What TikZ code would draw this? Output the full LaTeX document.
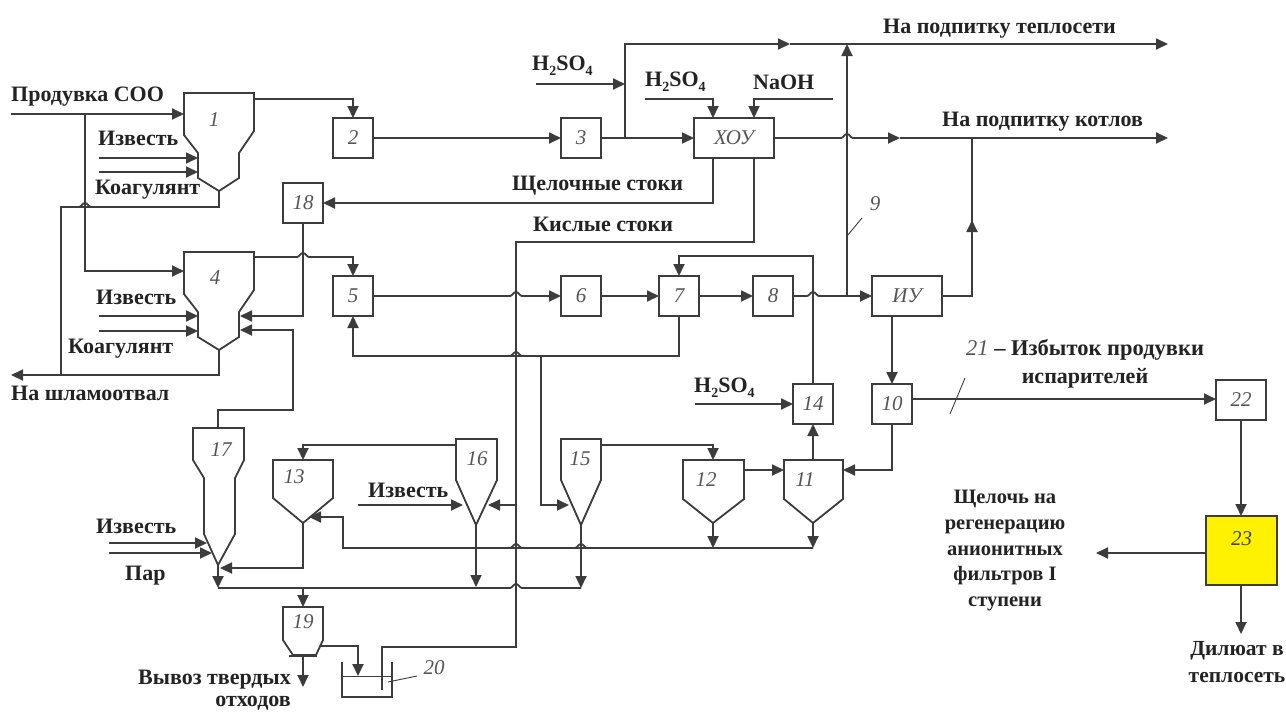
\documentclass[tikz,border=0pt]{standalone}
\usepackage{fontspec}
\setmainfont{Liberation Serif}
\usetikzlibrary{arrows.meta,calc}
\definecolor{lc}{RGB}{60,60,60}
\definecolor{numc}{RGB}{85,85,85}
\definecolor{txtc}{RGB}{35,35,35}
\newcommand{\jmp}[2]{-- ({#1-6},#2) .. controls ({#1-3.5},#2) and ({#1-3},{#2-4}) .. (#1,{#2-4}) .. controls ({#1+3},{#2-4}) and ({#1+3.5},#2) .. ({#1+6},#2)}
\newcommand{\hso}{H\raisebox{-0.22em}{\fontsize{14}{14}\selectfont 2}SO\raisebox{-0.22em}{\fontsize{14}{14}\selectfont 4}}
\tikzset{
  ln/.style={draw=lc,line width=1.8pt,line join=miter},
  tipped/.style={ln,-{Triangle[length=12pt,width=11pt]}},
  vessel/.style={draw=lc,line width=1.8pt,fill=white},
  num/.style={font=\fontsize{21}{21}\selectfont\itshape,text=numc,inner sep=0pt},
  lbl/.style={font=\fontsize{22}{26}\selectfont\bfseries,text=txtc,inner sep=0pt,align=center,yshift=-2.5pt},
  boxn/.style={draw=lc,line width=1.8pt,fill=white,minimum height=40pt,minimum width=40pt,inner sep=0pt,outer sep=0pt,font=\fontsize{21}{21}\selectfont\itshape,text=numc},
}
\begin{document}
\begin{tikzpicture}[x=1pt,y=-1pt]
\useasboundingbox (0,0) rectangle (1286,713);
\fill[white] (0,0) rectangle (1286,713);

% rectangular units
\node[boxn] (n2) at (353,138) {2};
\node[boxn] (n3) at (581,138) {3};
\node[boxn,minimum width=80pt] (xou) at (734,138) {ХОУ};
\node[boxn] (n18) at (303,203) {18};
\node[boxn] (n5) at (353,296) {5};
\node[boxn] (n6) at (581,296) {6};
\node[boxn] (n7) at (679,296) {7};
\node[boxn] (n8) at (773,296) {8};
\node[boxn,minimum width=70pt] (iu) at (907,296) {ИУ};
\node[boxn] (n10) at (892,404) {10};
\node[boxn] (n14) at (813,404) {14};
\node[boxn,minimum width=50pt] (n22) at (1241,400) {22};
\node[boxn,fill=yellow,minimum width=71pt,minimum height=69pt,
      label={[num,text=black!75,shift={(0pt,12pt)}]center:23}] (n23) at (1241.5,550.5) {};

% hoppers
\draw[vessel] (184,93)--(254,93)--(254,131)--(239,153)--(239,178)--(219,191)--(198,178)--(198,153)--(184,135)--cycle;
\node[num] (h1) at (214,120) {1};
\draw[vessel] (184,252)--(254,252)--(254,290)--(239,312)--(239,337)--(219,350)--(198,337)--(198,312)--(184,294)--cycle;
\node[num] (h4) at (215,278) {4};
\draw[vessel] (193,428)--(244,428)--(244,460)--(235,478)--(235,534)--(218,565)--(204,534)--(204,478)--(193,460)--cycle;
\node[num] (h17) at (221,450) {17};
\draw[vessel] (273,460)--(333,460)--(333,498)--(303,523)--(273,498)--cycle;
\node[num] (h13) at (294,477) {13};
\draw[vessel] (456,439)--(497,439)--(497,480)--(476,525)--(456,480)--cycle;
\node[num] (h16) at (477,459) {16};
\draw[vessel] (561,439)--(601,439)--(601,480)--(581,525)--(561,480)--cycle;
\node[num] (h15) at (580,459) {15};
\draw[vessel] (683,460)--(744,460)--(744,499)--(713,523)--(683,499)--cycle;
\node[num] (h12) at (706,480) {12};
\draw[vessel] (784,460)--(843,460)--(843,499)--(813,523)--(784,499)--cycle;
\node[num] (h11) at (805,480) {11};
\draw[vessel] (283,607)--(323,607)--(323,640)--(316,655)--(293,655)--(283,640)--cycle;
\draw[ln] (289,656)--(317,656);
\node[num] (h19) at (303,622) {19};

% tank 20
\draw[ln] (342,662)--(342,697)--(392,697)--(392,662);
\draw[ln,line width=0.9pt] (342,676)--(392,676);
\coordinate (tankin) at (358,676);
\coordinate (tankr) at (382,690);
\coordinate (tanklead) at (388,682);

% named ends
\coordinate (s0) at (11,114);
\coordinate (h1in) at (184,114);
\coordinate (h4in) at (184,271);
\coordinate (br0) at (85,114);
\coordinate (h1a) at (99,158);
\coordinate (h1ae) at (198,158);
\coordinate (h1b) at (99,172);
\coordinate (h1be) at (198,172);
\coordinate (h4a) at (99,316);
\coordinate (h4ae) at (198,316);
\coordinate (h4b) at (99,331);
\coordinate (h4be) at (198,331);
\coordinate (h1out) at (254,99);
\coordinate (h1bot) at (219,191);
\coordinate (h4out) at (254,257);
\coordinate (h4bot) at (219,350);
\coordinate (h4r1) at (240,316);
\coordinate (h4r2) at (240,330);
\coordinate (sl) at (11,375);
\coordinate (sljoin) at (61,375);
\coordinate (h17top) at (218,428);
\coordinate (h17a) at (109,543);
\coordinate (h17ae) at (207,543);
\coordinate (h17b) at (109,553);
\coordinate (h17be) at (212,553);
\coordinate (h17r) at (220,568);
\coordinate (h17bot) at (218,565);
\coordinate (hdr0) at (218,588);
\coordinate (hdr1) at (581,588);
\coordinate (h13top) at (303,460);
\coordinate (h13bot) at (303,523);
\coordinate (h13r) at (309,517);
\coordinate (h16out) at (456,445);
\coordinate (h16bot) at (476,525);
\coordinate (h16hdr) at (476,587);
\coordinate (h16l) at (463,505);
\coordinate (h16r) at (488,505);
\coordinate (lime16) at (358,505);
\coordinate (h15out) at (601,445);
\coordinate (h15bot) at (581,525);
\coordinate (h15l) at (569,505);
\coordinate (h12top) at (713,460);
\coordinate (h12r) at (744,470);
\coordinate (h12bot) at (713,523);
\coordinate (h11l) at (784,470);
\coordinate (h11r) at (843,470);
\coordinate (h11top) at (813,460);
\coordinate (h11bot) at (813,523);
\coordinate (ret) at (813,548);
\coordinate (h19top) at (303,607);
\coordinate (h19hdr) at (303,588);
\coordinate (h19r) at (320,646);
\coordinate (h19bot) at (303,656);
\coordinate (waste) at (303,687);
\coordinate (x3) at (625,138);
\coordinate (topend) at (1168,44);
\coordinate (botend) at (1168,138);
\coordinate (acid1) at (536,84);
\coordinate (acid1e) at (625,84);
\coordinate (acid2) at (645,99);
\coordinate (xouA) at (713,118);
\coordinate (xouB) at (754,118);
\coordinate (xouC) at (713,158);
\coordinate (xouD) at (754,158);
\coordinate (naoh) at (833,99);
\coordinate (v9b) at (847,296);
\coordinate (v9t) at (847,44);
\coordinate (acid14) at (695,404);
\coordinate (acid14e) at (793,404);
\coordinate (n5in) at (353,276);
\coordinate (br7) at (541,356);
\coordinate (n10r) at (912,399);
\coordinate (n22l) at (1216,399);
\coordinate (alk) at (1096,553);
\coordinate (dil) at (1241,634);

% inlet and cross-connections
\draw[tipped] (s0)--(h1in);
\draw[tipped] (br0)|-(h4in);
\draw[tipped] (h1a)--(h1ae);
\draw[tipped] (h1b)--(h1be);
\draw[tipped] (h4a)--(h4ae);
\draw[tipped] (h4b)--(h4be);
\draw[tipped] (h1out)-|(n2.north);
\draw[ln] (h1bot)--(219,207) \jmp{85}{207} --(61,207)--(sljoin);
\draw[tipped] (h4bot)--(219,375)--(sl);
\draw[tipped] (h4out) \jmp{303}{257} -|(n5in);
\draw[tipped] (n18.south)|-(h4r1);
\draw[tipped] (h17top)--(218,410)--(293,410)--(293,330)--(h4r2);

% main line
\draw[tipped] (n2.east)--(n3.west);
\draw[tipped] (n3.east)--(xou.west);
\draw[tipped] (x3)--(625,44)--(790,44);
\draw[tipped] (790,44)--(topend);
\draw[tipped] (acid1)--(acid1e);
\draw[tipped] (acid2)-|(xouA);
\draw[tipped] (naoh)-|(xouB);
\draw[tipped] (xou.east) \jmp{847}{138} --(900,138);
\draw[tipped] (900,138)--(botend);
\draw[tipped] (xouC)|-(n18.east);
\draw[ln] (xouD)--(754,242)--(516,242)--(516,647)--(382,647)--(tankr);
\draw[tipped] (v9b)--(v9t);
\draw[ln,line width=0.9pt] (847,236)--(862,218);

% second line
\draw[tipped] (n5.east) \jmp{516}{296} --(n6.west);
\draw[tipped] (n6.east)--(n7.west);
\draw[tipped] (n7.east)--(n8.west);
\draw[tipped] (n8.east) \jmp{813}{296} --(iu.west);
\draw[tipped] (n14.north)--(813,256)-|(n7.north);
\draw[tipped] (n7.south)--(679,356) \jmp{516}{356} -|(n5.south);
\draw[tipped] (iu.east)-|(972,220);
\draw[ln] (972,222)--(972,138);
\draw[tipped] (iu.south-|n10.north)--(n10.north);
\draw[tipped] (n10.south)--(892,470)--(h11r);
\draw[tipped] (n10r)--(n22l);
\draw[ln,line width=0.9pt] (950,414)--(965,378);
\draw[tipped] (n22.south)--(1241,516);
\draw[tipped] (n23.west|-alk)--(alk);
\draw[tipped] (n23.south-|dil)--(dil);

% lower section
\draw[tipped] (br7)|-(h15l);
\draw[tipped] (516,505)--(h16r);
\draw[tipped] (lime16)--(h16l);
\draw[tipped] (h16out)-|(h13top);
\draw[tipped] (h15out)-|(h12top);
\draw[tipped] (h12r)--(h11l);
\draw[tipped] (h11top)--(n14.south);
\draw[tipped] (acid14)--(acid14e);
\draw[tipped] (h12bot)--(713,548);
\draw[tipped] (h11bot)--(ret);
\draw[tipped] (ret) \jmp{581}{548} \jmp{516}{548} --(343,548)--(343,517)--(h13r);
\draw[tipped] (h13bot)|-(h17r);
\draw[tipped] (h17a)--(h17ae);
\draw[tipped] (h17b)--(h17be);
\draw[tipped] (h17bot)--(hdr0);
\draw[ln] (hdr0) \jmp{516}{588} --(hdr1);
\draw[tipped] (h16bot)--(h16hdr);
\draw[tipped] (h15bot)--(hdr1);
\draw[tipped] (h19hdr)--(h19top);
\draw[tipped] (h19r)-|(tankin);
\draw[tipped] (h19bot)--(waste);
\draw[ln,line width=0.9pt] (tanklead)--(417,676);

% numbers
\node[num] (num9) at (875,204) {9};
\node[num] (num20) at (434,668) {20};

% texts
\node[lbl,anchor=west] (t1) at (11,94) {Продувка СОО};
\node[lbl,anchor=west] (t2) at (98,136) {Известь};
\node[lbl,anchor=west] (t3) at (95,187) {Коагулянт};
\node[lbl,anchor=west] (t4) at (96,295) {Известь};
\node[lbl,anchor=west] (t5) at (68,346) {Коагулянт};
\node[lbl,anchor=west] (t6) at (11,391) {На шламоотвал};
\node[lbl,anchor=west] (t7) at (96,524) {Известь};
\node[lbl,anchor=west] (t8) at (125,573) {Пар};
\node[lbl,anchor=west] (t9) at (368,488) {Известь};
\node[lbl,anchor=east] (t10) at (291,677) {Вывоз твердых};
\node[lbl,anchor=east] (t11) at (291,701) {отходов};
\node[lbl,anchor=west] (t12) at (532,63) {\hso};
\node[lbl,anchor=west] (t13) at (645,79) {\hso};
\node[lbl,anchor=west] (t14) at (753,80) {NaOH};
\node[lbl,anchor=west] (t15) at (512,183) {Щелочные стоки};
\node[lbl,anchor=west] (t16) at (533,222) {Кислые стоки};
\node[lbl,anchor=west] (t17) at (883,26) {На подпитку теплосети};
\node[lbl,anchor=west] (t18) at (942,119) {На подпитку котлов};
\node[lbl,anchor=west] (t19) at (694,385) {\hso};
\node[lbl,anchor=west,font=\fontsize{22.5}{29}\selectfont\bfseries] (t20) at (966,347) {{\mdseries\itshape\color{numc}21} – Избыток продувки};
\node[lbl] (t20b) at (1085,376) {испарителей};
\node[lbl,font=\fontsize{20.5}{25.8}\selectfont\bfseries] (t21) at (1005,548) {Щелочь на\\регенерацию\\анионитных\\фильтров I\\ступени};
\node[lbl,font=\fontsize{21.5}{27}\selectfont\bfseries] (t22) at (1237,660) {Дилюат в\\теплосеть};
\end{tikzpicture}
\end{document}
